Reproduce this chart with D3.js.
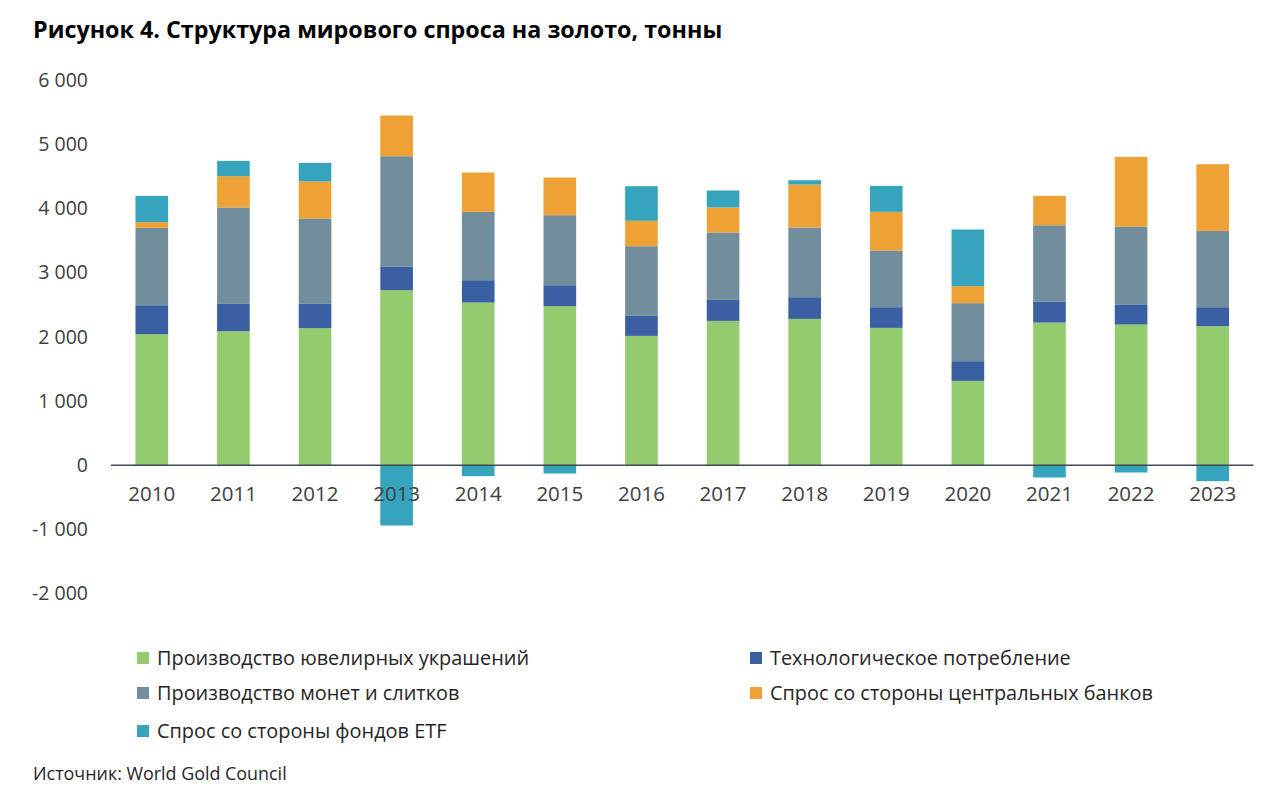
<!DOCTYPE html>
<html>
<head>
<meta charset="utf-8">
<script src="https://cdn.jsdelivr.net/npm/d3@7"></script>
<style>
  body { margin: 0; background: #fff; }
  svg text { font-family: "Open Sans", "Noto Sans", sans-serif; }
</style>
</head>
<body>
<div id="chart"></div>
<script>
// data, tonnes
const years = ['2010', '2011', '2012', '2013', '2014', '2015', '2016', '2017', '2018', '2019', '2020', '2021', '2022', '2023'];
const jewellery = [2041, 2088, 2135, 2727, 2535, 2478, 2015, 2249, 2280, 2140, 1314, 2223, 2192, 2166];
const technology = [452, 426, 379, 364, 348, 327, 312, 327, 338, 322, 307, 328, 306, 296];
const barsCoins = [1205, 1502, 1330, 1724, 1065, 1091, 1086, 1050, 1086, 884, 904, 1189, 1221, 1189];
const centralBanks = [89, 488, 577, 635, 613, 587, 395, 390, 670, 602, 265, 457, 1086, 1040];
const etf = [410, 238, 290, -940, -171, -130, 540, 265, 67, 405, 883, -192, -114, -249];
const yTicks = [-2000, -1000, 0, 1000, 2000, 3000, 4000, 5000, 6000];

const seriesNames = [
    'Производство ювелирных украшений',
    'Технологическое потребление',
    'Производство монет и слитков',
    'Спрос со стороны центральных банков',
    'Спрос со стороны фондов ETF'
];
const seriesValues = [jewellery, technology, barsCoins, centralBanks, etf];
const colors = ['#94CB6F', '#3A5FA2', '#728E9D', '#EEA135', '#37A4BD'];

const width = 1280;
const height = 799;

const svg = d3.select('#chart')
    .append('svg')
    .attr('width', width)
    .attr('height', height);

// title
svg.append('text')
    .attr('x', 33)
    .attr('y', 38)
    .attr('font-size', 23.3)
    .attr('font-weight', 700)
    .attr('fill', '#000')
    .text('Рисунок 4. Структура мирового спроса на золото, тонны');

const x = d3.scaleBand()
    .domain(years)
    .range([111, 1253.5])
    .paddingInner(0.6)
    .paddingOuter(0.3);

const y = d3.scaleLinear()
    .domain([-2000, 6000])
    .range([593.5, 80.2]);

// stack positives up from zero, negatives down from zero
const rows = years.map((yr, i) => {
    let pos = 0, neg = 0;
    return seriesValues.map((vals, s) => {
        const v = vals[i];
        let y0, y1;
        if (v >= 0) { y0 = pos; y1 = pos + v; pos = y1; }
        else { y0 = neg; y1 = neg + v; neg = y1; }
        return { year: yr, series: s, y0, y1 };
    });
});

const segments = rows.flat();

svg.append('g')
    .selectAll('rect')
    .data(segments)
    .enter()
    .append('rect')
    .attr('x', (d) => x(d.year))
    .attr('width', x.bandwidth())
    .attr('y', (d) => y(Math.max(d.y0, d.y1)))
    .attr('height', (d) => Math.abs(y(d.y0) - y(d.y1)))
    .attr('fill', (d) => colors[d.series]);

// y axis labels (no axis line), plain hyphen for negatives
const fmt = (v) => d3.format(',')(v).replace(/,/g, ' ').replace('\u2212', '-');
const yAxis = svg.append('g')
    .attr('transform', 'translate(88,0)')
    .call(d3.axisLeft(y).tickValues(yTicks).tickSize(0).tickPadding(0).tickFormat(fmt));
yAxis.select('.domain').remove();
yAxis.selectAll('text')
    .attr('font-size', 19.5)
    .attr('fill', '#404040')
    .style('font-family', '"Open Sans", sans-serif');

// zero line
svg.append('line')
    .attr('x1', 111)
    .attr('x2', 1253.5)
    .attr('y1', y(0))
    .attr('y2', y(0))
    .attr('stroke', '#3F4A55')
    .attr('stroke-width', 1.5);

// year labels
const xAxis = svg.append('g')
    .attr('transform', `translate(0,${y(0)})`)
    .call(d3.axisBottom(x).tickSize(0).tickPadding(21));
xAxis.select('.domain').remove();
xAxis.selectAll('text')
    .attr('font-size', 20.5)
    .attr('fill', '#404040')
    .style('font-family', '"Open Sans", sans-serif');

// legend: two columns
const legendPos = [
    [137, 658], [750, 658],
    [137, 693], [750, 693],
    [137, 731]
];
const legendOrder = [0, 1, 2, 3, 4];
const legend = svg.append('g')
    .selectAll('g')
    .data(legendOrder)
    .enter()
    .append('g')
    .attr('transform', (d, i) => `translate(${legendPos[i][0]},${legendPos[i][1]})`);

legend.append('rect')
    .attr('x', 0)
    .attr('y', -6)
    .attr('width', 12)
    .attr('height', 12)
    .attr('fill', (d) => colors[d]);

legend.append('text')
    .attr('x', 20)
    .attr('y', 0)
    .attr('dy', '0.35em')
    .attr('font-size', 19.9)
    .attr('fill', '#262626')
    .text((d) => seriesNames[d]);

// source
svg.append('text')
    .attr('x', 33)
    .attr('y', 780)
    .attr('font-size', 17.9)
    .attr('fill', '#262626')
    .text('Источник: World Gold Council');
</script>
</body>
</html>
